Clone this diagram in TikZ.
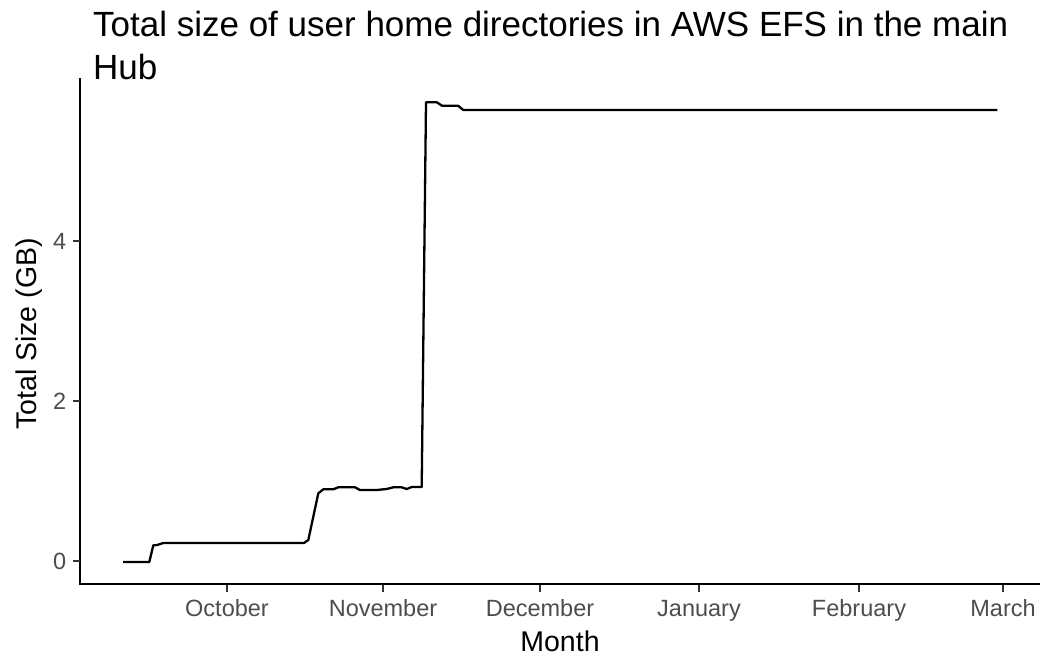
\documentclass[tikz,border=0pt]{standalone}
\usepackage{fontspec}
\setmainfont{Liberation Sans}
\definecolor{ticktext}{HTML}{4D4D4D}
\definecolor{tickmark}{HTML}{333333}
\tikzset{
    axisline/.style={line width=2.3pt, line cap=rect},
    tickline/.style={line width=2pt, tickmark},
    ticklabel/.style={inner sep=0pt, ticktext, font=\fontsize{23.5}{27}\selectfont},
    axistitle/.style={inner sep=0pt, font=\fontsize{28.5}{33}\selectfont},
    plottitle/.style={inner sep=0pt, anchor=base west, font=\fontsize{35}{42}\selectfont}
}
\begin{document}
\begin{tikzpicture}[x=1pt, y=-1pt]
    \useasboundingbox (0,0) rectangle (1040,656);

    % title
    \node[plottitle] (title1) at (93,36.5) {Total size of user home directories in AWS EFS in the main};
    \node[plottitle] (title2) at (93,79.5) {Hub};

    % axes
    \coordinate (origin) at (80,584);
    \coordinate (ytop) at (80,79);
    \coordinate (xend) at (1040,584);
    \draw[axisline] (ytop) -- (origin) -- (xend);

    % y ticks
    \foreach \val/\ypos in {0/561, 2/401, 4/241} {
        \draw[tickline] (73,\ypos) -- (80,\ypos);
        \node[ticklabel, anchor=east] (ytick\val) at (66.5,\ypos) {\val};
    }

    % x ticks
    \foreach \mon/\xpos in {October/227, November/383, December/540, January/699, February/859, March/1003} {
        \draw[tickline] (\xpos,585) -- (\xpos,592);
        \node[ticklabel, anchor=base] (xtick\mon) at (\xpos,616) {\mon};
    }

    % axis titles
    \node[axistitle, anchor=base] (xtitle) at (560,651) {Month};
    \node[axistitle, anchor=base, rotate=90] (ytitle) at (36.5,334) {Total Size (GB)};

    % data
    \draw[line width=2.3pt, line join=round] plot coordinates {
        (123,562) (149.3,562) (153.3,545.3) (157.3,545) (163.3,543)
        (304,543) (308.3,540) (318.3,493.3) (323.3,489.3) (333.3,489.3)
        (338.3,487.3) (355,487.3) (360,490) (376.7,490) (386.7,489)
        (393.3,487.3) (401.7,487.3) (406.7,489) (411.7,487) (421.7,487)
        (426,102.3) (436.7,102.3) (442,105.7) (458,105.7) (463.3,110)
        (997.3,110)
    };
\end{tikzpicture}
\end{document}
